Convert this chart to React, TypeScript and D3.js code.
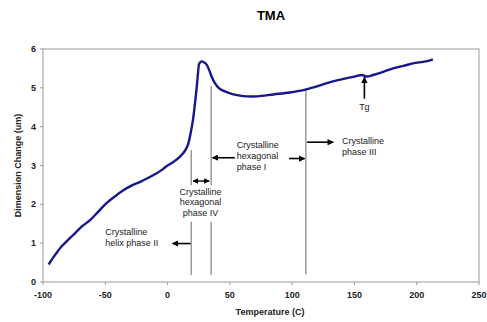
import * as d3 from "d3";

// TMA curve
const tempC = [-95.5, -92, -88, -85, -80, -73, -68, -62, -56, -49, -42, -35.5, -29, -22, -15, -8.7, -4, 0, 5, 10, 14, 16.5, 18.5, 20.5, 22, 23.5, 24.5, 25.5, 27.5, 29.5, 31.5, 33.5, 35.5, 38, 41, 45, 52, 58, 64, 72, 85, 98, 109, 118, 128, 136, 144, 150, 156, 160, 165, 172, 181, 190, 197, 205, 210, 213];
const dimension = [0.45, 0.62, 0.8, 0.92, 1.08, 1.3, 1.45, 1.6, 1.8, 2.03, 2.21, 2.36, 2.48, 2.58, 2.69, 2.8, 2.9, 3.0, 3.1, 3.23, 3.38, 3.55, 3.83, 4.2, 4.6, 5.05, 5.4, 5.63, 5.68, 5.65, 5.59, 5.45, 5.28, 5.12, 5.0, 4.92, 4.84, 4.8, 4.78, 4.78, 4.83, 4.88, 4.94, 5.02, 5.12, 5.19, 5.25, 5.29, 5.33, 5.29, 5.33, 5.4, 5.5, 5.57, 5.63, 5.67, 5.7, 5.73];

const xTicks = [-100, -50, 0, 50, 100, 150, 200, 250];
const yTicks = [0, 1, 2, 3, 4, 5, 6];

// phase boundary lines: temperature and top value
const boundaryTemps = [19, 35, 111];
const boundaryTops = [3.4, 5.05, 4.95];

const W = 487;
const H = 322;
const FONT = "Arial, 'Liberation Sans', sans-serif";
const BLUE = "#16168e";
const GREY = "#9a9a9a";

export default function App() {
  const x = d3.scaleLinear().domain([-100, 250]).range([43, 479]);
  const y = d3.scaleLinear().domain([0, 6]).range([282, 49]);

  const pts: [number, number][] = tempC.map((t, i) => [t, dimension[i]]);
  const line = d3
    .line<[number, number]>()
    .x((d) => x(d[0]))
    .y((d) => y(d[1]))
    .curve(d3.curveCatmullRom.alpha(0.5));

  // gap in the first two boundary lines where the phase IV label sits
  const gapTop = y(2.49);
  const gapBottom = y(1.55);

  const arrow = (x1: number, y1: number, x2: number, y2: number, key: string) => (
    <line key={key} x1={x1} y1={y1} x2={x2} y2={y2} stroke="#000" strokeWidth={1.6} markerEnd="url(#head)" />
  );

  const annot = { fontFamily: FONT, fontSize: 9, fill: "#222" } as const;

  return (
    <div style={{ position: "absolute", left: 0, top: 0 }}>
      <svg width={W} height={H} style={{ display: "block", background: "#fff" }}>
        <defs>
          <marker id="head" viewBox="0 0 10 10" refX="9" refY="5" markerWidth="4" markerHeight="4" orient="auto-start-reverse">
            <path d="M0,0 L10,5 L0,10 z" fill="#000" />
          </marker>
        </defs>

        <text x={271} y={20} textAnchor="middle" fontFamily={FONT} fontWeight="bold" fontSize={13}>
          TMA
        </text>

        {/* plot frame */}
        <rect x={x(-100)} y={y(6)} width={x(250) - x(-100)} height={y(0) - y(6)} fill="none" stroke={GREY} strokeWidth={1} />

        {/* ticks */}
        {yTicks.map((t) => (
          <g key={"y" + t}>
            <line x1={x(-100) - 3} x2={x(-100)} y1={y(t)} y2={y(t)} stroke={GREY} />
            <text x={36} y={y(t) + 3} textAnchor="end" fontFamily={FONT} fontWeight="bold" fontSize={9} fill="#222">
              {t}
            </text>
          </g>
        ))}
        {xTicks.map((t) => (
          <g key={"x" + t}>
            <line x1={x(t)} x2={x(t)} y1={y(0)} y2={y(0) + 3} stroke={GREY} />
            <text x={x(t)} y={y(0) + 16} textAnchor="middle" fontFamily={FONT} fontWeight="bold" fontSize={9} fill="#222">
              {t}
            </text>
          </g>
        ))}

        <text x={270} y={315} textAnchor="middle" fontFamily={FONT} fontWeight="bold" fontSize={9} fill="#222">
          Temperature (C)
        </text>
        <text
          transform={`translate(21,${(y(0) + y(6)) / 2}) rotate(-90)`}
          textAnchor="middle"
          fontFamily={FONT}
          fontWeight="bold"
          fontSize={9}
          fill="#222"
        >
          Dimension Change (um)
        </text>

        {/* phase boundary lines */}
        {boundaryTemps.map((t, i) =>
          i < 2 ? (
            <g key={"b" + i}>
              <line x1={x(t)} x2={x(t)} y1={y(boundaryTops[i])} y2={gapTop} stroke={GREY} strokeWidth={1.5} />
              <line x1={x(t)} x2={x(t)} y1={gapBottom} y2={y(0.18)} stroke={GREY} strokeWidth={1.5} />
            </g>
          ) : (
            <line key={"b" + i} x1={x(t)} x2={x(t)} y1={y(boundaryTops[i])} y2={y(0.2)} stroke={GREY} strokeWidth={1.5} />
          )
        )}

        <path d={line(pts) ?? ""} fill="none" stroke={BLUE} strokeWidth={2.4} strokeLinejoin="round" />

        {/* arrows */}
        <line x1={x(19) + 2} x2={x(35) - 2} y1={y(2.6)} y2={y(2.6)} stroke="#000" strokeWidth={1.4} markerStart="url(#head)" markerEnd="url(#head)" />
        {arrow(x(18.5), y(0.99), x(4), y(0.99), "a2")}
        {arrow(x(54), y(3.2), x(36), y(3.2), "a1l")}
        {arrow(x(97.5), y(3.18), x(110), y(3.18), "a1r")}
        {arrow(x(112), y(3.6), x(133), y(3.6), "a3")}
        {arrow(x(158), y(4.72), x(158), y(5.27), "tg")}

        {/* labels */}
        <text {...annot} textAnchor="middle">
          <tspan x={x(26.5)} y={y(2.25)}>Crystalline</tspan>
          <tspan x={x(26.5)} dy={10.5}>hexagonal</tspan>
          <tspan x={x(26.5)} dy={10.5}>phase IV</tspan>
        </text>
        <text {...annot}>
          <tspan x={x(-50)} y={y(1.21)}>Crystalline</tspan>
          <tspan x={x(-50)} dy={11}>helix phase II</tspan>
        </text>
        <text {...annot}>
          <tspan x={x(55.5)} y={y(3.45)}>Crystalline</tspan>
          <tspan x={x(55.5)} dy={11}>hexagonal</tspan>
          <tspan x={x(55.5)} dy={11}>phase I</tspan>
        </text>
        <text {...annot}>
          <tspan x={x(140)} y={y(3.55)}>Crystalline</tspan>
          <tspan x={x(140)} dy={11}>phase III</tspan>
        </text>
        <text {...annot} x={x(158)} y={y(4.43)} textAnchor="middle">
          Tg
        </text>
      </svg>
    </div>
  );
}
